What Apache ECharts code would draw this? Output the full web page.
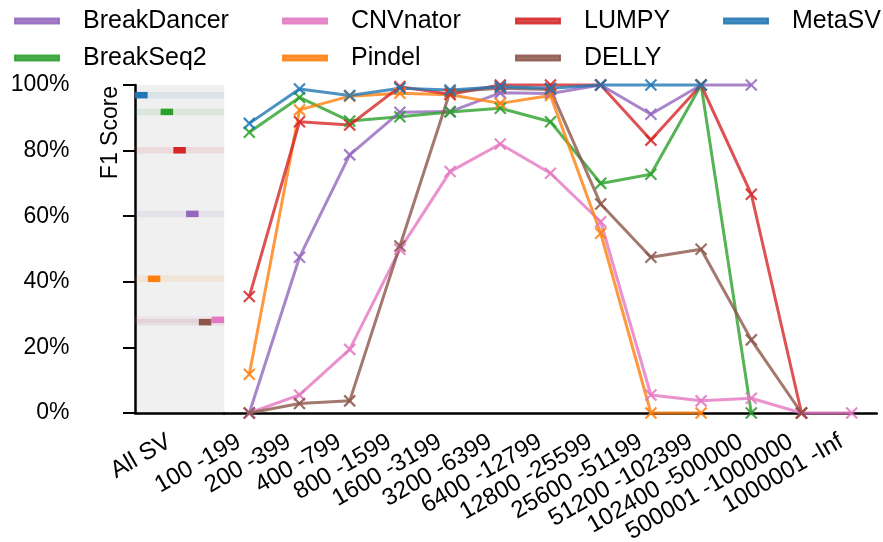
<!DOCTYPE html>
<html>
<head>
<meta charset="utf-8">
<script src="https://cdn.jsdelivr.net/npm/echarts@6/dist/echarts.min.js"></script>
<style>
html,body{margin:0;padding:0;background:#fff;}
#chart{width:883px;height:542px;}
</style>
</head>
<body>
<div id="chart"></div>
<script>
// ---- data ----
const categories = ['100 -199','200 -399','400 -799','800 -1599','1600 -3199','3200 -6399','6400 -12799','12800 -25599','25600 -51199','51200 -102399','102400 -500000','500001 -1000000','1000001 -Inf'];
const allSvLabel = ['All SV'];
const yTicks = [0, 20, 40, 60, 80, 100];

const toolNames = ['BreakDancer','BreakSeq2','CNVnator','Pindel','LUMPY','DELLY','MetaSV'];
const toolColors = ['#9467bd','#2ca02c','#e377c2','#ff7f0e','#d62728','#8c564b','#1f77b4'];

const breakDancer = [0, 47.5, 78.7, 91.7, 91.9, 97.6, 97.4, 100, 91.1, 100, 100, null, null];
const breakSeq2   = [85.6, 96.2, 89.0, 90.3, 91.8, 92.9, 88.8, 70.0, 72.8, 100, 0, null, null];
const cnvnator    = [0, 5.5, 19.4, 49.9, 73.6, 82.0, 73.1, 58.3, 5.5, 3.7, 4.5, 0, 0];
const pindel      = [11.8, 92.4, 96.6, 97.5, 97.0, 94.4, 96.8, 54.8, 0, 0, null, null, null];
const lumpy       = [35.5, 88.8, 87.8, 99.5, 97.2, 100, 100, 100, 83.2, 100, 66.7, 0, null];
const delly       = [0, 2.9, 3.7, 50.9, 98.0, 99.0, 98.6, 63.7, 47.5, 49.9, 22.3, 0, null];
const metaSV      = [88.3, 98.8, 96.8, 99.0, 98.5, 99.5, 99.0, 100, 100, 100, null, null, null];

// overall ("All SV") F1 per tool and its slot inside the All SV panel
const allSvValues = [60.7, 91.8, 28.4, 40.9, 80.1, 27.7, 96.9];
const allSvSlots  = [4, 2, 6, 1, 3, 5, 0];

const seriesValues = [breakDancer, breakSeq2, cnvnator, pindel, lumpy, delly, metaSV];
const legendColumns = [['BreakDancer','BreakSeq2'],['CNVnator','Pindel'],['LUMPY','DELLY'],['MetaSV']];
const legendLefts = [14, 282, 515, 723];

// ---- chart ----
const FONT = 'Liberation Sans';
const chart = echarts.init(document.getElementById('chart'), null, {renderer: 'canvas'});
const X_SYMBOL = 'path://M0,0L10,10M10,0L0,10';

const series = [];
toolNames.forEach((name, i) => {
  const c = toolColors[i];
  series.push({
    name: name, type: 'line', xAxisIndex: 2, yAxisIndex: 1,
    data: seriesValues[i], connectNulls: false, clip: false,
    symbol: X_SYMBOL, symbolSize: 11, showSymbol: true,
    lineStyle: {color: c, width: 3, opacity: 0.8},
    itemStyle: {color: c, borderColor: c, borderWidth: 2.2, opacity: 0.85},
    emphasis: {disabled: true}, z: 3
  });
  series.push({
    name: name + ' (all)', type: 'line', xAxisIndex: 1, yAxisIndex: 0,
    data: [[0, allSvValues[i]], [7, allSvValues[i]]],
    symbol: 'none', silent: true,
    lineStyle: {color: c, width: 6.5, opacity: 0.1},
    emphasis: {disabled: true}, z: 1
  });
  series.push({
    name: name + ' (all mark)', type: 'scatter', xAxisIndex: 1, yAxisIndex: 0,
    data: [[allSvSlots[i] + 0.5, allSvValues[i]]],
    symbol: 'rect', symbolSize: [12.5, 6.5], silent: true,
    itemStyle: {color: c, opacity: 1},
    emphasis: {disabled: true}, z: 2
  });
});

const legends = legendColumns.map((col, k) => ({
  data: col, orient: 'vertical', left: legendLefts[k], top: 8.5, padding: 0,
  itemWidth: 44, itemHeight: 5, itemGap: 12, icon: 'rect',
  selectedMode: false,
  textStyle: {fontFamily: FONT, fontSize: 25, color: '#000', lineHeight: 25, padding: [0,0,0,19]}
}));

const axisLineStyle = {color: '#000', width: 2.5};
const xLabelStyle = {rotate: 30, interval: 0, margin: 21, padding: [0, 12, 0, 0], fontFamily: FONT, fontSize: 24, color: '#000'};
const option = {
  animation: false,
  backgroundColor: '#fff',
  legend: legends,
  grid: [
    {left: 135, top: 85, width: 89.2, height: 328, show: true, backgroundColor: '#f0f0f0', borderWidth: 0, containLabel: false, outerBoundsMode: 'none'},
    {left: 224.2, top: 85, width: 652.6, height: 328, containLabel: false, outerBoundsMode: 'none'}
  ],
  xAxis: [
    {type: 'category', gridIndex: 0, data: allSvLabel, boundaryGap: true,
     axisLine: {lineStyle: axisLineStyle},
     axisTick: {alignWithLabel: true, length: 14, lineStyle: {color: '#000', width: 2}},
     axisLabel: xLabelStyle,
     splitLine: {show: false}},
    {type: 'value', gridIndex: 0, min: 0, max: 7, show: false},
    {type: 'category', gridIndex: 1, data: categories, boundaryGap: true,
     axisLine: {lineStyle: axisLineStyle},
     axisTick: {alignWithLabel: true, interval: 0, length: 14, lineStyle: {color: '#000', width: 2}},
     axisLabel: xLabelStyle,
     splitLine: {show: false}}
  ],
  yAxis: [
    {type: 'value', gridIndex: 0, min: yTicks[0], max: yTicks[yTicks.length-1], interval: yTicks[1]-yTicks[0],
     offset: 44,
     axisLine: {show: true, lineStyle: axisLineStyle},
     axisTick: {show: true, length: 12, lineStyle: {color: '#000', width: 2}},
     axisLabel: {formatter: '{value}%', margin: 21.5, fontFamily: FONT, fontSize: 23, color: '#000'},
     splitLine: {show: false}},
    {type: 'value', gridIndex: 1, min: 0, max: 100, show: false, splitLine: {show: false}}
  ],
  graphic: [
    {type: 'text', x: 111, y: 132.5, rotation: Math.PI / 2,
     style: {text: 'F1 Score', fontFamily: FONT, fontSize: 23, fill: '#000', align: 'center', verticalAlign: 'middle'}}
  ],
  series: series
};
chart.setOption(option);
</script>
</body>
</html>
